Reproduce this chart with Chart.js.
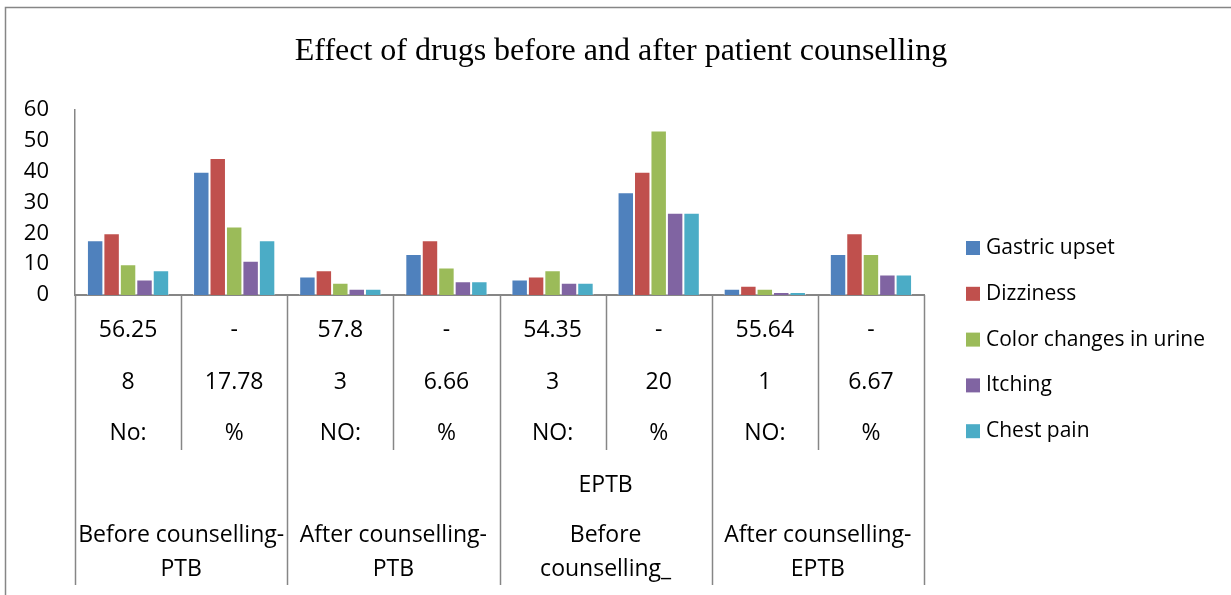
<!DOCTYPE html>
<html>
<head>
<meta charset="utf-8">
<script src="https://cdn.jsdelivr.net/npm/chart.js@4.4.0/dist/chart.umd.min.js"></script>
<style>
  html, body { margin: 0; padding: 0; background: #fff; }
</style>
</head>
<body>
<canvas id="grafico" width="1231" height="595"></canvas>
<script>
// dados
const titulo = 'Effect of drugs before and after patient counselling';
const categorias = ['No:', '%', 'NO:', '%', 'NO:', '%', 'NO:', '%'];
const linhaNumero = ['8', '17.78', '3', '6.66', '3', '20', '1', '6.67'];
const linhaTopo = ['56.25', '-', '57.8', '-', '54.35', '-', '55.64', '-'];
const grupos = [
  ['Before counselling-', 'PTB'],
  ['After counselling-', 'PTB'],
  ['EPTB', 'Before', 'counselling_'],
  ['After counselling-', 'EPTB']
];

const gastrico = [17.78, 40, 6, 13.33, 5, 33.33, 2, 13.33];
const tontura = [20, 44.44, 8, 17.78, 6, 40, 3, 20];
const urina = [10, 22.22, 4, 8.89, 8, 53.33, 2, 13.33];
const coceira = [5, 11.11, 2, 4.44, 4, 26.67, 1, 6.67];
const dorPeito = [8, 17.78, 2, 4.44, 4, 26.67, 1, 6.67];

const eixoY = [0, 10, 20, 30, 40, 50, 60];

const corLinha = '#868686';
const fonteTexto = "'Open Sans', sans-serif";

// moldura, titulo, tabela do eixo x e legenda
const tabelaEixo = {
  id: 'tabelaEixo',
  beforeDraw(chart) {
    const ctx = chart.ctx;
    ctx.save();
    ctx.fillStyle = '#fff';
    ctx.fillRect(0, 0, chart.width, chart.height);
    ctx.strokeStyle = corLinha;
    ctx.lineWidth = 1.5;
    ctx.strokeRect(5.5, 7.5, chart.width + 20, chart.height + 20);
    ctx.fillStyle = '#000';
    ctx.font = "32px 'Liberation Serif', serif";
    ctx.textAlign = 'center';
    ctx.textBaseline = 'middle';
    ctx.fillText(titulo, 621, 52);
    ctx.restore();
  },
  afterDraw(chart) {
    const ctx = chart.ctx;
    const x = chart.scales.x;
    const base = chart.chartArea.bottom;
    const larg = (x.right - x.left) / categorias.length;
    ctx.save();
    ctx.strokeStyle = corLinha;
    ctx.lineWidth = 1.5;
    for (var i = 0; i <= categorias.length; i++) {
      var px = Math.round(x.left + i * larg) + 0.5;
      ctx.beginPath();
      ctx.moveTo(px, base);
      ctx.lineTo(px, i % 2 == 0 ? 585 : 450);
      ctx.stroke();
    }
    ctx.fillStyle = '#000';
    ctx.font = `23px ${fonteTexto}`;
    ctx.textAlign = 'center';
    ctx.textBaseline = 'middle';
    for (var i = 0; i < categorias.length; i++) {
      var cx = x.getPixelForValue(i);
      ctx.fillText(linhaTopo[i], cx, 330);
      ctx.fillText(linhaNumero[i], cx, 382);
      ctx.fillText(categorias[i], cx, 433);
    }
    var alturas = [569, 535, 485];
    for (var g = 0; g < grupos.length; g++) {
      var cx = x.left + (g * 2 + 1) * larg;
      var linhas = grupos[g];
      for (var k = 0; k < linhas.length; k++) {
        ctx.fillText(linhas[linhas.length - 1 - k], cx, alturas[k]);
      }
    }
    // legenda
    ctx.font = `21px ${fonteTexto}`;
    ctx.textAlign = 'left';
    chart.data.datasets.forEach(function (ds, j) {
      var ly = 248 + j * 45.8;
      ctx.fillStyle = ds.backgroundColor;
      ctx.fillRect(966, ly - 7, 14, 14);
      ctx.fillStyle = '#000';
      ctx.fillText(ds.label, 986, ly);
    });
    ctx.restore();
  }
};

new Chart(document.getElementById('grafico'), {
  type: 'bar',
  data: {
    labels: categorias,
    datasets: [
      { label: 'Gastric upset', data: gastrico, backgroundColor: '#4F81BD' },
      { label: 'Dizziness', data: tontura, backgroundColor: '#C0504D' },
      { label: 'Color changes in urine', data: urina, backgroundColor: '#9BBB59' },
      { label: 'Itching', data: coceira, backgroundColor: '#8064A2' },
      { label: 'Chest pain', data: dorPeito, backgroundColor: '#4BACC6' }
    ]
  },
  options: {
    responsive: false,
    animation: false,
    datasets: {
      bar: {
        categoryPercentage: 0.775,
        barPercentage: 1,
        borderWidth: 1,
        borderColor: 'rgba(255,255,255,0.55)'
      }
    },
    layout: { padding: { top: 110, right: 307, bottom: 0, left: 0 } },
    plugins: {
      legend: { display: false },
      tooltip: { enabled: false },
      title: { display: false }
    },
    scales: {
      x: {
        grid: { display: false, drawTicks: false },
        ticks: { display: false },
        border: { display: true, color: corLinha, width: 2 },
        afterFit: function (scale) { scale.height = 300; }
      },
      y: {
        min: eixoY[0],
        max: eixoY[eixoY.length - 1],
        afterBuildTicks: function (scale) {
          scale.ticks = eixoY.map(function (v) { return { value: v }; });
        },
        grid: { display: false, drawTicks: false },
        border: { display: true, color: corLinha, width: 1.5 },
        ticks: {
          color: '#000',
          padding: 26,
          font: { family: fonteTexto, size: 22 }
        },
        afterFit: function (scale) { scale.width = 75; }
      }
    }
  },
  plugins: [tabelaEixo]
});
</script>
</body>
</html>
